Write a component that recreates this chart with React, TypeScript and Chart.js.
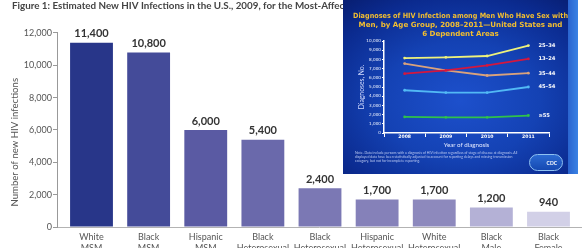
import React, { useEffect, useRef } from "react";
import { Chart, registerables } from "chart.js";

Chart.register(...registerables);

const FONT = "Lato, 'Liberation Sans', sans-serif";
const SLIDE_FONT = "'DejaVu Sans', Verdana, sans-serif";

// ---- Main bar chart data ----
const groupLabels: string[][] = [
  ["White", "MSM"],
  ["Black", "MSM"],
  ["Hispanic", "MSM"],
  ["Black", "Heterosexual", "Women"],
  ["Black", "Heterosexual", "Men"],
  ["Hispanic", "Heterosexual", "Women"],
  ["White", "Heterosexual", "Women"],
  ["Black", "Male", "IDU"],
  ["Black", "Female", "IDU"],
];
const newInfections = [11400, 10800, 6000, 5400, 2400, 1700, 1700, 1200, 940];
const barColors = [
  "#283689",
  "#444b99",
  "#5a5aa3",
  "#6a69ab",
  "#7b78b4",
  "#8581b9",
  "#8d89bd",
  "#b4b1d6",
  "#d2d0e7",
];
const mainTitle =
  "Figure 1: Estimated New HIV Infections in the U.S., 2009, for the Most-Affected Subpopulations";
const yAxisTitle = "Number of new HIV infections";

// ---- Inset line chart data ----
const years = ["2008", "2009", "2010", "2011"];
const age25to34 = [8150, 8230, 8370, 9500];
const age13to24 = [6450, 6800, 7350, 8050];
const age35to44 = [7550, 6800, 6250, 6500];
const age45to54 = [4650, 4400, 4400, 5000];
const age55plus = [1750, 1700, 1700, 1900];
const ageLabels = ["25–34", "13–24", "35–44", "45–54", "≥55"];
const ageColors = ["#eef27c", "#d4173e", "#d9a27c", "#52b9f5", "#2fc24b"];
const insetTitle = [
  "Diagnoses of HIV Infection among Men Who Have Sex with",
  "Men, by Age Group, 2008–2011—United States and",
  "6 Dependent Areas",
];
const insetNote =
  "Note. Data include persons with a diagnosis of HIV infection regardless of stage of disease at diagnosis. All displayed data have been statistically adjusted to account for reporting delays and missing transmission category, but not for incomplete reporting.";

const barValuePlugin = {
  id: "barValues",
  afterDatasetsDraw(chart: any) {
    const ctx = chart.ctx;
    const meta = chart.getDatasetMeta(0);
    ctx.save();
    ctx.font = `bold 11px ${FONT}`;
    ctx.fillStyle = "#333333";
    ctx.textAlign = "center";
    ctx.textBaseline = "middle";
    meta.data.forEach((bar: any, i: number) => {
      ctx.fillText(newInfections[i].toLocaleString("en-US"), bar.x, bar.y - 9);
    });
    ctx.restore();
  },
};

const lineEndLabelPlugin = {
  id: "lineEndLabels",
  afterDatasetsDraw(chart: any) {
    const ctx = chart.ctx;
    ctx.save();
    ctx.font = `bold 5.2px ${SLIDE_FONT}`;
    ctx.fillStyle = "#ffffff";
    ctx.textAlign = "left";
    ctx.textBaseline = "middle";
    chart.data.datasets.forEach((ds: any, di: number) => {
      const meta = chart.getDatasetMeta(di);
      const last = meta.data[meta.data.length - 1];
      ctx.fillText(ds.label, last.x + 10, last.y);
    });
    ctx.restore();
  },
};

function MainChart() {
  const ref = useRef<HTMLCanvasElement>(null);
  useEffect(() => {
    if (!ref.current) return;
    const chart = new Chart(ref.current, {
      type: "bar",
      data: {
        datasets: [
          {
            data: newInfections.map((v, i) => ({ x: i, y: v })),
            backgroundColor: barColors,
            categoryPercentage: 1,
            barPercentage: 0.75,
          },
        ],
      },
      options: {
        responsive: false,
        animation: false,
        layout: { padding: { left: 12, right: 3, top: 0, bottom: 0 } },
        plugins: {
          legend: { display: false },
          tooltip: { enabled: false },
          title: {
            display: true,
            text: mainTitle,
            align: "start",
            color: "#444444",
            font: { family: FONT, size: 9.8, weight: "bold", lineHeight: 1.1 },
            padding: { top: 0, bottom: 22.2 },
          },
        },
        scales: {
          x: {
            type: "linear",
            min: -0.604,
            max: 8.569,
            offset: false,
            afterBuildTicks: (scale: any) => {
              scale.ticks = groupLabels.map((_, i) => ({ value: i }));
            },
            afterFit: (scale: any) => {
              scale.height = 21;
            },
            grid: { display: false, drawTicks: false },
            border: { display: true, color: "#b3b3b3", width: 1 },
            ticks: {
              autoSkip: false,
              maxRotation: 0,
              minRotation: 0,
              padding: 4.6,
              color: "#555555",
              font: { family: FONT, size: 9, lineHeight: 1.2 },
              callback: (v: any) => groupLabels[Math.round(Number(v))] || "",
            },
          },
          y: {
            min: 0,
            max: 12000,
            afterFit: (scale: any) => {
              scale.width = 45;
            },
            ticks: {
              stepSize: 2000,
              padding: 1,
              color: "#555555",
              font: { family: FONT, size: 9 },
              callback: (v: any) => Number(v).toLocaleString("en-US"),
            },
            grid: { drawOnChartArea: false, drawTicks: true, tickLength: 4, color: "#999999" },
            border: { display: true, color: "#999999", width: 1 },
            title: {
              display: true,
              text: yAxisTitle + "          ",
              color: "#555555",
              font: { family: FONT, size: 9.6, lineHeight: 1.2 },
              padding: { top: -2.8, bottom: 0 },
            },
          },
        },
      },
      plugins: [barValuePlugin],
    } as any);
    return () => chart.destroy();
  }, []);
  return <canvas ref={ref} width={584} height={248} style={{ display: "block" }} />;
}

function InsetChart() {
  const ref = useRef<HTMLCanvasElement>(null);
  useEffect(() => {
    if (!ref.current) return;
    const series = [age25to34, age13to24, age35to44, age45to54, age55plus];
    const chart = new Chart(ref.current, {
      type: "line",
      data: {
        labels: years,
        datasets: series.map((s, i) => ({
          label: ageLabels[i],
          data: s,
          borderColor: ageColors[i],
          backgroundColor: ageColors[i],
          borderWidth: 1.8,
          pointRadius: 1.4,
          pointBorderWidth: 0,
          tension: 0,
          yAxisID: "y",
        })),
      },
      options: {
        responsive: false,
        animation: false,
        layout: { padding: { left: 10, right: 10, top: 0, bottom: 0 } },
        plugins: {
          legend: { display: false },
          tooltip: { enabled: false },
          title: {
            display: true,
            text: insetTitle,
            color: "#f2be30",
            font: { family: SLIDE_FONT, size: 7.1, weight: "bold", lineHeight: 1.25 },
            padding: { top: 11.6, bottom: 2.8 },
          },
        },
        scales: {
          x: {
            offset: true,
            afterFit: (scale: any) => {
              scale.height = 41;
            },
            grid: {
              display: true,
              drawOnChartArea: false,
              drawTicks: true,
              tickLength: 4,
              color: "#ffffff",
              offset: true,
              lineWidth: 1,
            },
            border: { display: true, color: "#ffffff", width: 1.5 },
            ticks: {
              color: "#ffffff",
              padding: -3,
              font: { family: SLIDE_FONT, size: 4.6, weight: "bold", lineHeight: 1.2 },
            },
            title: {
              display: true,
              text: "Year of diagnosis",
              color: "#e3e9ff",
              font: { family: FONT, size: 6.2, lineHeight: 1.2 },
              padding: { top: 0, bottom: 25.2 },
            },
          },
          y: {
            min: 0,
            max: 10000,
            afterFit: (scale: any) => {
              scale.width = 31;
            },
            ticks: {
              stepSize: 1000,
              padding: 1,
              color: "#f0f4ff",
              font: { family: SLIDE_FONT, size: 4.2 },
              callback: (v: any) => Number(v).toLocaleString("en-US"),
            },
            grid: { drawOnChartArea: false, drawTicks: true, tickLength: 2, color: "#ffffff" },
            border: { display: true, color: "#ffffff", width: 1.5 },
            title: {
              display: true,
              text: "Diagnoses, No.",
              color: "#d3dcff",
              font: { family: FONT, size: 6.8, lineHeight: 1.2 },
              padding: { top: 4.9, bottom: 0 },
            },
          },
          labelSpace: {
            type: "linear",
            position: "right",
            display: true,
            afterFit: (scale: any) => {
              scale.width = 19;
            },
            ticks: { display: false },
            grid: { display: false, drawTicks: false },
            border: { display: false },
          },
        },
      },
      plugins: [lineEndLabelPlugin],
    } as any);
    return () => chart.destroy();
  }, []);
  return <canvas ref={ref} width={235} height={174} style={{ display: "block", position: "absolute", left: 0, top: 0 }} />;
}

export default function App() {
  return (
    <div style={{ position: "absolute", left: 0, top: 0, width: 584, height: 248, background: "#ffffff", overflow: "hidden" }}>
      <MainChart />
      <div
        style={{
          position: "absolute",
          left: 343,
          top: 0,
          width: 235,
          height: 174,
          overflow: "hidden",
          background:
            "radial-gradient(ellipse 75% 75% at 50% 58%, #1d50cc 0%, #1442b4 45%, #0b2b90 80%, #081f74 100%)",
        }}
      >
        <div
          style={{
            position: "absolute",
            right: 0,
            top: 0,
            width: 10,
            height: "100%",
            background: "linear-gradient(to right, #2a64cf, #3a82e4)",
          }}
        />
        <InsetChart />
        <div
          style={{
            position: "absolute",
            left: 12,
            top: 151,
            width: 340,
            fontFamily: FONT,
            fontSize: 7,
            lineHeight: "7.5px",
            color: "#b7c6f0",
            transform: "scale(0.5)",
            transformOrigin: "top left",
          }}
        >
          {insetNote}
        </div>
        <div
          style={{
            position: "absolute",
            left: 186,
            top: 154,
            width: 34,
            height: 17,
            borderRadius: 9,
            border: "1px solid #8fc2f2",
            background: "linear-gradient(#2c6ad2, #1549b2)",
            boxSizing: "border-box",
            display: "flex",
            alignItems: "center",
            justifyContent: "flex-end",
            paddingRight: 5,
            fontFamily: FONT,
            fontSize: 5,
            fontWeight: "bold",
            color: "#ffffff",
          }}
        >
          CDC
        </div>
      </div>
    </div>
  );
}
